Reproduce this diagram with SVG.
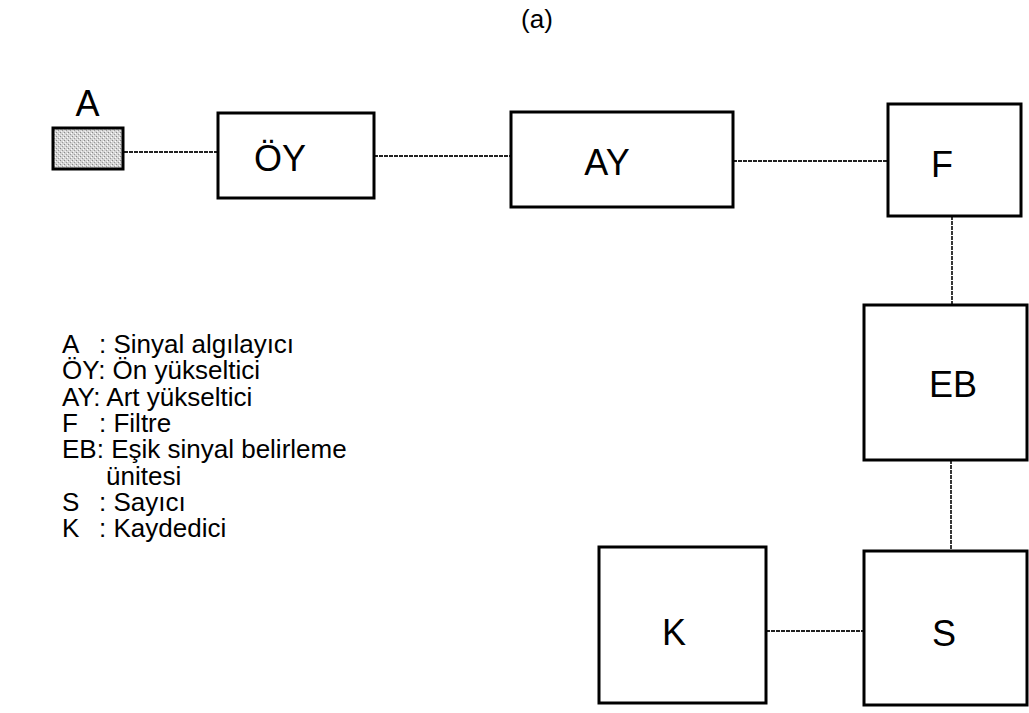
<svg xmlns="http://www.w3.org/2000/svg" width="1029" height="713" viewBox="0 0 1029 713">
<style>
.box{fill:#fff;stroke:#000;stroke-width:3}
.lbl{font-family:"Liberation Sans",Arial,sans-serif;font-size:36px;fill:#000;text-anchor:middle}
.leg{font-family:"Liberation Sans",Arial,sans-serif;font-size:26px;fill:#000}
.con{stroke:#222;stroke-width:1.8;stroke-dasharray:4 1;fill:none}
</style>
<defs>
<pattern id="stip" width="4" height="4" patternUnits="userSpaceOnUse">
<rect width="4" height="4" fill="#d4d4d4"/>
<rect x="0" y="0" width="1" height="1" fill="#8a8a8a"/>
<rect x="2" y="2" width="1" height="1" fill="#9a9a9a"/>
<rect x="3" y="1" width="1" height="1" fill="#fff"/>
<rect x="1" y="3" width="1" height="1" fill="#f4f4f4"/>
</pattern>
</defs>
<rect width="1029" height="713" fill="#fff"/>
<text x="537" y="28" class="leg" text-anchor="middle">(a)</text>
<g id="connectors">
<line class="con" x1="124" y1="152" x2="218" y2="152"/>
<line class="con" x1="374" y1="156" x2="511" y2="156"/>
<line class="con" x1="733" y1="161" x2="888" y2="161"/>
<line class="con" x1="952" y1="216" x2="952" y2="305"/>
<line class="con" x1="951" y1="460" x2="951" y2="551"/>
<line class="con" x1="766" y1="631" x2="864" y2="631"/>
</g>
<g id="node-A">
<rect x="53" y="128" width="70" height="41" fill="url(#stip)" stroke="#000" stroke-width="3"/>
<text x="87.5" y="116" class="lbl">A</text>
</g>
<g id="node-OY">
<rect class="box" x="218" y="113" width="156" height="85"/>
<text x="280" y="171" class="lbl">ÖY</text>
</g>
<g id="node-AY">
<rect class="box" x="511" y="112" width="222" height="95"/>
<text x="607" y="175" class="lbl">AY</text>
</g>
<g id="node-F">
<rect class="box" x="888" y="104" width="133" height="112"/>
<text x="942" y="177" class="lbl">F</text>
</g>
<g id="node-EB">
<rect class="box" x="864" y="305" width="163" height="155"/>
<text x="953" y="397" class="lbl">EB</text>
</g>
<g id="node-S">
<rect class="box" x="864" y="551" width="163" height="154"/>
<text x="944" y="646" class="lbl">S</text>
</g>
<g id="node-K">
<rect class="box" x="599" y="547" width="167" height="156"/>
<text x="674" y="645" class="lbl">K</text>
</g>
<g id="legend" class="leg">
<text x="62" y="353">A<tspan x="99">: Sinyal algılayıcı</tspan></text>
<text x="62" y="379.3">ÖY: Ön yükseltici</text>
<text x="62" y="405.6">AY: Art yükseltici</text>
<text x="62" y="431.9">F<tspan x="99">: Filtre</tspan></text>
<text x="62" y="458.2">EB: Eşik sinyal belirleme</text>
<text x="106" y="484.5">ünitesi</text>
<text x="62" y="510.8">S<tspan x="99">: Sayıcı</tspan></text>
<text x="62" y="537.1">K<tspan x="99">: Kaydedici</tspan></text>
</g>
</svg>
